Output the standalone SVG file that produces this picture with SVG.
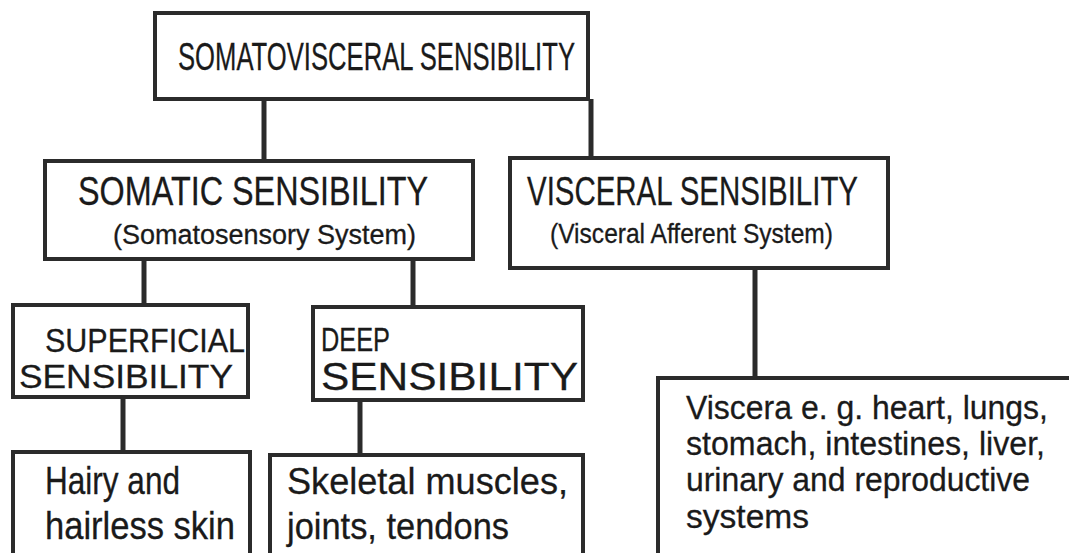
<svg xmlns="http://www.w3.org/2000/svg" width="1069" height="553" viewBox="0 0 1069 553">
<style>
.box{fill:#fff;stroke:#2b2b2b;stroke-width:4}
.ln{stroke:#2b2b2b;stroke-width:5;fill:none}
text{font-family:"Liberation Sans",Arial,sans-serif;fill:#1a1a1a;stroke:#1a1a1a;stroke-width:0.3}
</style>
<rect width="1069" height="553" fill="#fff"/>
<g id="connectors">
<line class="ln" x1="264" y1="99" x2="264" y2="160"/>
<line class="ln" x1="591" y1="99" x2="591" y2="158"/>
<line class="ln" x1="144" y1="259" x2="144" y2="305"/>
<line class="ln" x1="413" y1="259" x2="413" y2="307"/>
<line class="ln" x1="123" y1="397" x2="123" y2="452"/>
<line class="ln" x1="360" y1="400" x2="360" y2="455"/>
<line class="ln" x1="755" y1="268" x2="755" y2="378"/>
</g>
<g id="n-somatovisceral">
<rect class="box" x="155" y="13" width="433" height="86"/>
<text x="178" y="70" font-size="39" textLength="397" lengthAdjust="spacingAndGlyphs">SOMATOVISCERAL SENSIBILITY</text>
</g>
<g id="n-somatic">
<rect class="box" x="45" y="161" width="428" height="98"/>
<text x="78" y="205" font-size="40" textLength="350" lengthAdjust="spacingAndGlyphs">SOMATIC SENSIBILITY</text>
<text x="113" y="244" font-size="27" textLength="303" lengthAdjust="spacingAndGlyphs">(Somatosensory System)</text>
</g>
<g id="n-visceral">
<rect class="box" x="510" y="158" width="378" height="110"/>
<text x="527" y="205" font-size="40" textLength="331" lengthAdjust="spacingAndGlyphs">VISCERAL SENSIBILITY</text>
<text x="550" y="243" font-size="28" textLength="283" lengthAdjust="spacingAndGlyphs">(Visceral Afferent System)</text>
</g>
<g id="n-superficial">
<rect class="box" x="13" y="305" width="235" height="92"/>
<text x="45" y="352" font-size="34" textLength="200" lengthAdjust="spacingAndGlyphs">SUPERFICIAL</text>
<text x="19" y="388" font-size="34" textLength="214" lengthAdjust="spacingAndGlyphs">SENSIBILITY</text>
</g>
<g id="n-deep">
<rect class="box" x="313" y="307" width="270" height="93"/>
<text x="321" y="351" font-size="34" textLength="69" lengthAdjust="spacingAndGlyphs">DEEP</text>
<text x="321" y="390" font-size="39" textLength="257" lengthAdjust="spacingAndGlyphs">SENSIBILITY</text>
</g>
<g id="n-hairy">
<rect class="box" x="13" y="452" width="237" height="110"/>
<text x="45" y="494" font-size="38" textLength="135" lengthAdjust="spacingAndGlyphs">Hairy and</text>
<text x="45" y="539" font-size="38" textLength="190" lengthAdjust="spacingAndGlyphs">hairless skin</text>
</g>
<g id="n-skeletal">
<rect class="box" x="270" y="455" width="313" height="110"/>
<text x="287" y="494" font-size="37" textLength="281" lengthAdjust="spacingAndGlyphs">Skeletal muscles,</text>
<text x="287" y="539" font-size="37" textLength="222" lengthAdjust="spacingAndGlyphs">joints, tendons</text>
</g>
<g id="n-viscera">
<rect class="box" x="658" y="378" width="420" height="190"/>
<text x="686" y="419" font-size="34" textLength="362" lengthAdjust="spacingAndGlyphs">Viscera e. g. heart, lungs,</text>
<text x="686" y="455" font-size="34" textLength="359" lengthAdjust="spacingAndGlyphs">stomach, intestines, liver,</text>
<text x="686" y="491" font-size="34" textLength="344" lengthAdjust="spacingAndGlyphs">urinary and reproductive</text>
<text x="686" y="528" font-size="34" textLength="123" lengthAdjust="spacingAndGlyphs">systems</text>
</g>
</svg>
